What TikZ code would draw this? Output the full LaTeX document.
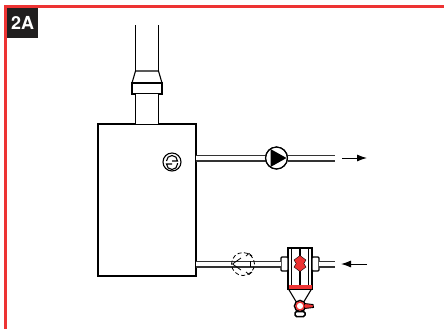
\documentclass[tikz,border=0pt]{standalone}
\usepackage{fontspec}
\setsansfont{TeX Gyre Heros}
\usetikzlibrary{arrows.meta,positioning,calc}
\definecolor{framered}{rgb}{0.93,0.2,0.2}
\definecolor{badgeblack}{rgb}{0.13,0.12,0.12}
\definecolor{pipegray}{rgb}{0.2,0.2,0.2}
\tikzset{
  line/.style={draw=black,line width=1.1bp},
  pipe/.style={draw=pipegray,line width=1.4bp,double=white,double distance=4.2bp},
  flue/.style={draw=black,line width=1.1bp,double=white,double distance=21.5bp},
  flow/.style={-{Latex[length=10bp,width=7bp]},line width=1bp},
  box/.style={line,fill=white,inner sep=0pt,outer sep=0pt,minimum width=#1},
  ring/.style={line,circle,inner sep=0pt,outer sep=0pt,minimum size=#1},
}
\begin{document}
\begin{tikzpicture}[x=1bp,y=-1bp]
  \useasboundingbox (0,0) rectangle (444,329);
  % Frame
  \fill [framered] (4,5) rectangle (444,7.5);
  \fill [framered] (4,5) rectangle (7,329);
  \node (badge) [fill=badgeblack,text=white,font=\sffamily\bfseries\fontsize{18}{18}\selectfont,
    minimum width=31bp,minimum height=30bp,inner sep=0pt] at (22.5,23) {2A};
  % Node: boiler
  \node (boiler) [box=98bp,minimum height=152bp] at (147,200) {};
  % Node: stack
  \coordinate (stack_top) at (147,25);
  \coordinate (hood_top) at (147,71);
  \node (collar) [box=30bp,minimum height=11bp] at (147,88.5) {};
  % Edge: stack_top -> hood
  \draw [flue] (stack_top) -- (hood_top);
  % Edge: collar -> boiler
  \draw [flue] (collar.south) -- (boiler.north);
  \draw [line] (135.5,71) -- (158.5,71) -- (collar.north east) -- (collar.north west) -- cycle;
  % Node: sensor
  \node (sensor) [ring=18bp] at (172,162) {};
  \draw [line] (166.5,161) arc (180:0:5.5bp) -- (172,161);
  \draw [line] (172,164) -- (166.5,164) arc (180:360:5.5bp) -- (177.5,163);
  % Node: pump
  \node (pump) [ring=22bp] at (276.5,158) {};
  \coordinate (supply_end) at (335,158);
  \coordinate (supply_a) at (342,158);
  \coordinate (supply_b) at (367,158);
  % Edge: boiler -> pump
  \draw [pipe] (boiler.east |- pump) -- (pump.west);
  % Edge: pump -> supply_end
  \draw [pipe] (pump.east) -- (supply_end);
  \node [ring=22bp] at (pump) {};
  \fill (270.5,149) -- (286.5,158) -- (270.5,167) -- cycle;
  % Edge: supply_a -> supply_b
  \draw [flow] (supply_a) -- (supply_b);
  % Node: separator
  \node (body) [box=24bp,minimum height=41.5bp] at (300,268.2) {};
  \node (socket_l) [box=7bp,minimum height=14bp,rounded corners=1bp] at (284.5,264) {};
  \node (socket_r) [box=7bp,minimum height=14bp,rounded corners=1bp] at (315.5,264) {};
  \coordinate (return_end) at (335,264);
  \coordinate (return_a) at (367,264);
  \coordinate (return_b) at (341,264);
  % Edge: boiler -> socket_l
  \draw [pipe] (boiler.east |- socket_l) -- (socket_l.west);
  % Edge: return_end -> socket_r
  \draw [pipe] (return_end) -- (socket_r.east);
  % Edge: return_a -> return_b
  \draw [flow] (return_a) -- (return_b);
  % Node: dashed valve
  \node (valve) [circle,draw=black,dash pattern=on 4bp off 2.5bp,line width=0.8bp,inner sep=0pt,minimum size=23bp] at (243,264) {};
  \draw [line width=0.8bp] (232.5,264) -- (241,258);
  \draw [line width=0.8bp] (232.5,264) -- (241,270);
  \draw [line width=1bp] (250,261) -- (250,267);
  \draw [line width=0.8bp] (246,256) -- (249,253.5) -- (252,256);
  \draw [line width=0.8bp] (246,272) -- (249,274.5) -- (252,272);
  % Separator inside
  \draw [line] (291.5,249) -- (291.5,285);
  \draw [line] (308.5,249) -- (308.5,285);
  \draw [line] (300,249) -- (300,256);
  \draw [line] (300,271) -- (300,285);
  \draw [line width=1.6bp] (288,248.3) -- (312,248.3);
  \draw [framered,fill=framered,draw=black,line width=0.4bp] (300,255.5) -- (306,260) -- (303.8,263.5) -- (306,267) -- (300,271.5)
    -- (294,267) -- (296.2,263.5) -- (294,260) -- cycle;
  \fill [framered] (288.5,285) rectangle (311.5,289);
  % Node: drain
  \draw [line] (288.5,289) -- (296,301.5);
  \draw [line] (311.5,289) -- (304,301.5);
  \node (drain) [ring=11bp,fill=white,line width=1.6bp] at (300,306) {};
  \draw [line,fill=framered,line width=0.9bp] (304.5,303.5) -- (313,304.5) -- (313.5,307.5) -- (304.5,308.5) -- cycle;
  \node [circle,draw=framered,fill=white,line width=1.4bp,inner sep=0pt,minimum size=8bp] at (drain) {};
  \node (drain_cap) [box=10bp,minimum height=5bp,rounded corners=1.5bp,line width=1.5bp] at (300,314) {};
\end{tikzpicture}
\end{document}
